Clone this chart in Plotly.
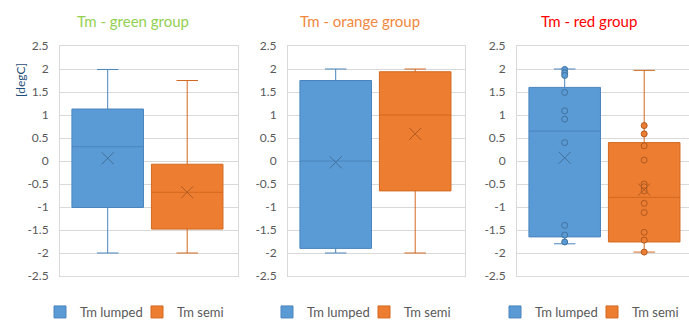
import plotly.graph_objects as go

# Series shown in every panel
series = ["Tm lumped", "Tm semi"]
panel_titles = ["Tm - green group", "Tm - orange group", "Tm - red group"]
title_colors = ["#92D050", "#F0883E", "#FF0000"]

# Box statistics per panel, ordered [Tm lumped, Tm semi]
lower_fence = [[-2.00, -2.00], [-2.00, -2.00], [-1.80, -1.98]]
q1_vals = [[-1.01, -1.48], [-1.90, -0.65], [-1.65, -1.76]]
median_vals = [[0.31, -0.68], [0.00, 1.00], [0.65, -0.79]]
q3_vals = [[1.13, -0.07], [1.75, 1.94], [1.60, 0.40]]
upper_fence = [[1.99, 1.75], [2.00, 2.00], [2.00, 1.97]]
mean_vals = [[0.06, -0.68], [-0.03, 0.59], [0.07, -0.62]]

# Individual values plotted for the red group
red_lumped_points = [1.99, 1.92, 1.86, 1.49, 1.09, 0.91, 0.40, -1.40, -1.61, -1.76]
red_semi_points = [0.77, 0.59, 0.33, 0.02, -0.50, -0.56, -0.65, -0.92, -1.12,
                   -1.55, -1.72, -1.98]

tick_vals = [-2.5, -2.0, -1.5, -1.0, -0.5, 0.0, 0.5, 1.0, 1.5, 2.0, 2.5]
tick_text = ["-2.5", "-2", "-1.5", "-1", "-0.5", "0", "0.5", "1", "1.5", "2", "2.5"]

y_label = "[degC]"

fill_colors = ["#5B9BD5", "#ED7D31"]
line_colors = ["#4A84BE", "#D2691F"]
mark_colors = ["#41719C", "#AE5A21"]

FONT = "Lato, 'Open Sans', sans-serif"
GRID = "#D9D9D9"
TICK = "#595959"

W, H = 689, 320
# plot-area pixel extents of the three panels
panel_px = [(60, 238), (288, 465), (517, 689)]
plot_top, plot_bottom = 46, 276
unit_px = 79.5
x_left = -0.6

fig = go.Figure()

for p in range(3):
    ax = "" if p == 0 else str(p + 1)
    xref, yref = "x" + ax, "y" + ax
    legend_name = "legend" + ax
    for s in range(2):
        fig.add_trace(go.Box(
            x=[series[s]],
            q1=[q1_vals[p][s]],
            median=[median_vals[p][s]],
            q3=[q3_vals[p][s]],
            lowerfence=[lower_fence[p][s]],
            upperfence=[upper_fence[p][s]],
            name=series[s],
            width=0.9,
            whiskerwidth=0.3,
            fillcolor=fill_colors[s],
            line=dict(color=line_colors[s], width=1),
            boxpoints=False,
            xaxis=xref, yaxis=yref,
            legend=legend_name,
            showlegend=True,
            hoverinfo="skip",
        ))
    if p == 2:
        for s, pts in enumerate([red_lumped_points, red_semi_points]):
            fig.add_trace(go.Scatter(
                x=[series[s]] * len(pts), y=pts, mode="markers",
                marker=dict(symbol="circle", size=6, color=fill_colors[s],
                            line=dict(color=mark_colors[s], width=1)),
                xaxis=xref, yaxis=yref, showlegend=False, hoverinfo="skip",
            ))
    # mean markers
    for s in range(2):
        fig.add_trace(go.Scatter(
            x=[series[s]], y=[mean_vals[p][s]], mode="markers",
            marker=dict(symbol="x-thin", size=12,
                        line=dict(color=mark_colors[s], width=1)),
            xaxis=xref, yaxis=yref, showlegend=False, hoverinfo="skip",
        ))

layout = dict(
    width=W, height=H,
    margin=dict(l=0, r=0, t=0, b=0, autoexpand=False),
    paper_bgcolor="white", plot_bgcolor="white",
    font=dict(family=FONT, size=12, color=TICK),
    showlegend=True,
    boxmode="overlay",
)

annotations = []
title_centers = [133, 360, 589]
legend_centers = [137, 364, 592]
for p in range(3):
    ax = "" if p == 0 else str(p + 1)
    x0, x1 = panel_px[p]
    span = (x1 - x0) / unit_px
    layout["xaxis" + ax] = dict(
        domain=[x0 / W, x1 / W],
        anchor="y" + ax,
        type="category",
        categoryorder="array", categoryarray=series,
        range=[x_left, x_left + span],
        showticklabels=False, ticks="",
        showgrid=False, zeroline=False,
        showline=True, mirror=True, linecolor=GRID, linewidth=1,
        fixedrange=True,
    )
    layout["yaxis" + ax] = dict(
        domain=[1 - plot_bottom / H, 1 - plot_top / H],
        anchor="x" + ax,
        range=[-2.5, 2.5],
        tickmode="array", tickvals=tick_vals, ticktext=tick_text,
        tickfont=dict(family=FONT, size=12, color=TICK),
        ticks="", ticklabelstandoff=8,
        showgrid=True, gridcolor=GRID, gridwidth=1,
        zeroline=False,
        showline=True, mirror=(p < 2), linecolor=GRID, linewidth=1,
        fixedrange=True,
    )
    layout["legend" + ax] = dict(
        orientation="h",
        x=legend_centers[p] / W, xanchor="center",
        y=1 - 312 / H, yanchor="middle",
        font=dict(family=FONT, size=13, color=TICK),
        bgcolor="rgba(0,0,0,0)",
        itemclick=False, itemdoubleclick=False,
        tracegroupgap=0,
        entrywidth=52,
    )
    annotations.append(dict(
        text=panel_titles[p], xref="paper", yref="paper",
        x=title_centers[p] / W, y=1 - 21 / H,
        xanchor="center", yanchor="middle", showarrow=False,
        font=dict(family=FONT, size=15, color=title_colors[p]),
    ))

annotations.append(dict(
    text=y_label, xref="paper", yref="paper",
    x=20 / W, y=1 - 80 / H, textangle=-90,
    xanchor="center", yanchor="middle", showarrow=False,
    font=dict(family=FONT, size=12, color="#1F4E79"),
))
layout["annotations"] = annotations

fig.update_layout(**layout)
fig.write_html("out.html", config={"displayModeBar": False})
